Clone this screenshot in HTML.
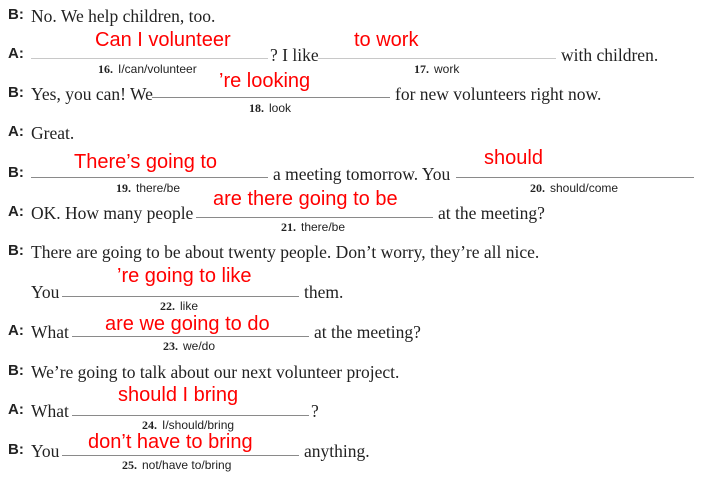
<!DOCTYPE html>
<html><head><meta charset="utf-8"><style>
body{margin:0;width:710px;height:491px;background:#fff;position:relative;overflow:hidden}
div{position:absolute;white-space:nowrap}
.l{font:bold 15px "Liberation Sans",sans-serif;color:#222;left:8px;line-height:20px}
.t{font:17.5px "Liberation Serif",serif;color:#222;line-height:20px}
.u{height:1px;border-top:1.5px solid #8a8a8a}
.h{font:12px "Liberation Sans",sans-serif;color:#222;line-height:14px}
.h b{font-family:"Liberation Serif",serif;margin-right:5px}
.r{font:20px "Liberation Sans",sans-serif;color:#ff0000;line-height:24px}
</style></head><body>
<div class="l" style="top:5px">B:</div><div class="t" style="left:31px;top:6px">No. We help children, too.</div>

<div class="l" style="top:44px">A:</div>
<div class="u" style="left:31px;width:237px;top:58px;border-color:#c8c8c8"></div>
<div class="t" style="left:270px;top:45px">? I like</div>
<div class="u" style="left:318px;width:238px;top:58px;border-color:#c8c8c8"></div>
<div class="t" style="left:561px;top:45px">with children.</div>
<div class="h" style="left:98px;top:62px"><b>16.</b>I/can/volunteer</div>
<div class="h" style="left:414px;top:62px"><b>17.</b>work</div>
<div class="r" style="left:95px;top:28px">Can I volunteer</div>
<div class="r" style="left:354px;top:28px">to work</div>

<div class="l" style="top:83px">B:</div><div class="t" style="left:31px;top:84px">Yes, you can! We</div>
<div class="u" style="left:152px;width:238px;top:97px"></div>
<div class="t" style="left:395px;top:84px">for new volunteers right now.</div>
<div class="h" style="left:249px;top:101px"><b>18.</b>look</div>
<div class="r" style="left:219px;top:69px">’re looking</div>

<div class="l" style="top:122px">A:</div><div class="t" style="left:31px;top:123px">Great.</div>

<div class="l" style="top:163px">B:</div>
<div class="u" style="left:31px;width:237px;top:177px"></div>
<div class="t" style="left:273px;top:164px">a meeting tomorrow. You</div>
<div class="u" style="left:456px;width:238px;top:177px"></div>
<div class="h" style="left:116px;top:181px"><b>19.</b>there/be</div>
<div class="h" style="left:530px;top:181px"><b>20.</b>should/come</div>
<div class="r" style="left:74px;top:150px">There’s going to</div>
<div class="r" style="left:484px;top:146px">should</div>

<div class="l" style="top:202px">A:</div><div class="t" style="left:31px;top:203px">OK. How many people</div>
<div class="u" style="left:196px;width:237px;top:217px"></div>
<div class="t" style="left:438px;top:203px">at the meeting?</div>
<div class="h" style="left:281px;top:220px"><b>21.</b>there/be</div>
<div class="r" style="left:213px;top:187px">are there going to be</div>

<div class="l" style="top:241px">B:</div><div class="t" style="left:31px;top:242px">There are going to be about twenty people. Don’t worry, they’re all nice.</div>

<div class="t" style="left:31px;top:282px">You</div>
<div class="u" style="left:62px;width:237px;top:296px"></div>
<div class="t" style="left:304px;top:282px">them.</div>
<div class="h" style="left:160px;top:299px"><b>22.</b>like</div>
<div class="r" style="left:117px;top:264px">’re going to like</div>

<div class="l" style="top:321px">A:</div><div class="t" style="left:31px;top:322px">What</div>
<div class="u" style="left:72px;width:237px;top:336px"></div>
<div class="t" style="left:314px;top:322px">at the meeting?</div>
<div class="h" style="left:163px;top:339px"><b>23.</b>we/do</div>
<div class="r" style="left:105px;top:312px">are we going to do</div>

<div class="l" style="top:361px">B:</div><div class="t" style="left:31px;top:362px">We’re going to talk about our next volunteer project.</div>

<div class="l" style="top:400px">A:</div><div class="t" style="left:31px;top:401px">What</div>
<div class="u" style="left:72px;width:237px;top:415px"></div>
<div class="t" style="left:311px;top:401px">?</div>
<div class="h" style="left:142px;top:418px"><b>24.</b>I/should/bring</div>
<div class="r" style="left:118px;top:383px">should I bring</div>

<div class="l" style="top:440px">B:</div><div class="t" style="left:31px;top:441px">You</div>
<div class="u" style="left:62px;width:237px;top:455px"></div>
<div class="t" style="left:304px;top:441px">anything.</div>
<div class="h" style="left:122px;top:458px"><b>25.</b>not/have to/bring</div>
<div class="r" style="left:88px;top:430px">don’t have to bring</div>
</body></html>
